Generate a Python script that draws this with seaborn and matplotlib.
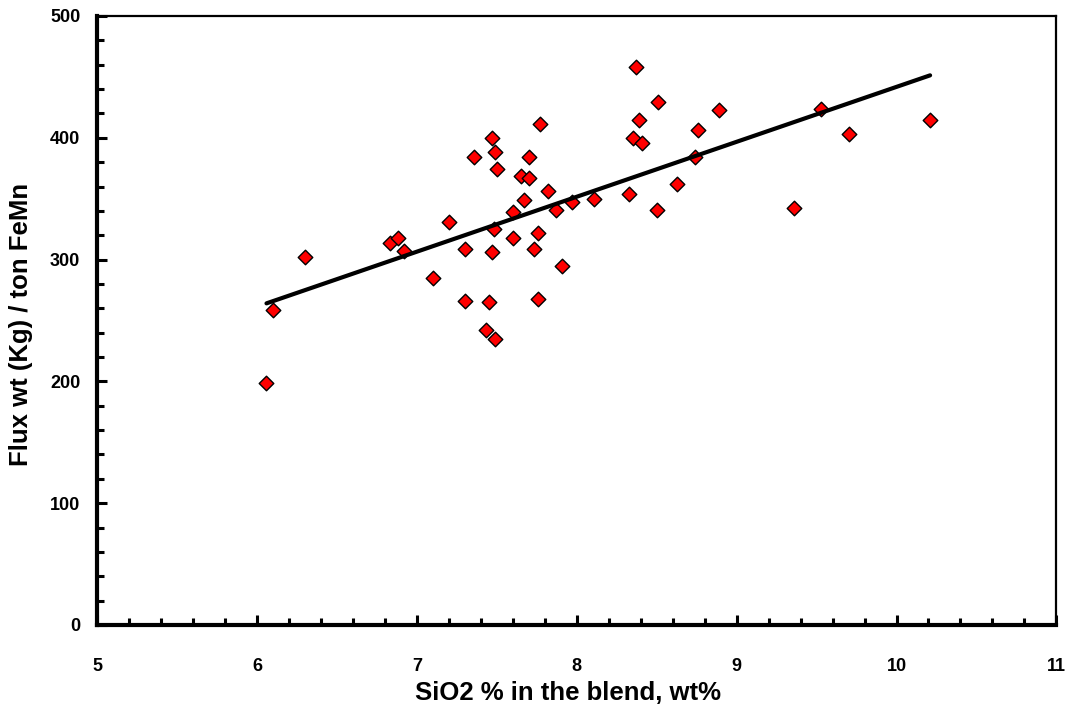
import matplotlib
matplotlib.use("Agg")
import matplotlib.pyplot as plt
import seaborn as sns
import pandas as pd
import numpy as np
from matplotlib.ticker import MultipleLocator

sio2 = [6.06, 6.10, 6.30, 6.83, 6.88, 6.92, 7.10, 7.20, 7.30, 7.30,
        7.36, 7.43, 7.45, 7.47, 7.47, 7.48, 7.49, 7.50, 7.49, 7.60,
        7.60, 7.65, 7.67, 7.70, 7.70, 7.73, 7.76, 7.76, 7.77, 7.82,
        7.87, 7.91, 7.97, 8.11, 8.33, 8.35, 8.37, 8.39, 8.41, 8.50,
        8.51, 8.63, 8.74, 8.76, 8.89, 9.36, 9.53, 9.70, 10.21]
flux = [199, 259, 302, 314, 318, 307, 285, 331, 309, 266,
        384, 242, 265, 400, 306, 325, 388, 374, 235, 339,
        318, 369, 349, 384, 367, 309, 322, 268, 411, 356,
        341, 295, 347, 350, 354, 400, 458, 415, 396, 341,
        429, 362, 384, 406, 423, 342, 424, 403, 415]

df = pd.DataFrame({"sio2": sio2, "flux": flux})

sns.set_style("ticks")
plt.rcParams['font.family'] = ['Liberation Sans', 'DejaVu Sans']
plt.rcParams['font.weight'] = 'bold'
plt.rcParams['text.color'] = 'black'
plt.rcParams['axes.labelcolor'] = 'black'
plt.rcParams['xtick.color'] = 'black'
plt.rcParams['ytick.color'] = 'black'

fig = plt.figure(figsize=(10.66, 7.11), dpi=100)
ax = fig.add_axes([0.091, 0.121, 0.9, 0.8565])

sns.scatterplot(data=df, x="sio2", y="flux", marker="D", s=55,
                color="#ff0000", edgecolor="black", linewidth=1.0,
                ax=ax, zorder=2, legend=False)
sns.regplot(data=df, x="sio2", y="flux", scatter=False, ci=None,
            color="black", line_kws={"linewidth": 3, "zorder": 3}, ax=ax)

ax.set_xlim(5, 11)
ax.set_ylim(0, 500)
ax.xaxis.set_major_locator(MultipleLocator(1))
ax.xaxis.set_minor_locator(MultipleLocator(0.2))
ax.yaxis.set_major_locator(MultipleLocator(100))
ax.yaxis.set_minor_locator(MultipleLocator(20))

ax.tick_params(axis="both", which="major", direction="in", length=7, width=2.2,
               labelsize=13, color="black", labelcolor="black")
ax.tick_params(axis="both", which="minor", direction="in", length=5, width=2.2,
               color="black")
ax.tick_params(axis="x", which="major", pad=24)
ax.tick_params(axis="y", which="major", pad=12)
for lab in ax.get_xticklabels() + ax.get_yticklabels():
    lab.set_fontweight("bold")

for side in ["left", "bottom"]:
    ax.spines[side].set_linewidth(3)
for side in ["top", "right"]:
    ax.spines[side].set_linewidth(1.6)
for sp in ax.spines.values():
    sp.set_color("black")
    sp.set_visible(True)

ax.set_xlabel("SiO2 % in the blend, wt%", fontsize=18.5, fontweight="bold",
              color="black", va="center", ha="center")
ax.set_ylabel("Flux wt (Kg) / ton FeMn", fontsize=18.5, fontweight="bold",
              color="black", va="center", ha="center")
ax.xaxis.set_label_coords(0.491, -0.112)
ax.yaxis.set_label_coords(-0.079, 0.494)

fig.savefig("out.png", dpi=100)
